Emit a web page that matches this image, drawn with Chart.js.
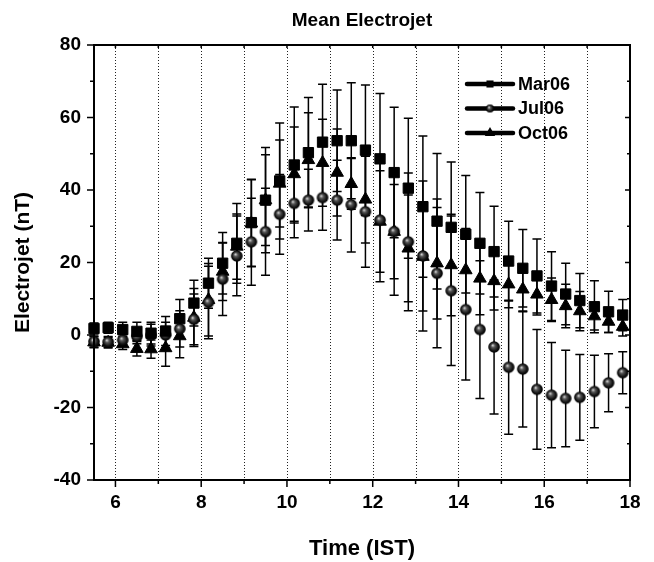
<!DOCTYPE html>
<html><head><meta charset="utf-8">
<script src="https://cdn.jsdelivr.net/npm/chart.js@4.4.1/dist/chart.umd.min.js"></script>
<style>html,body{margin:0;padding:0;background:#fff}#wrap{width:654px;height:562px}</style>
</head><body><div id="wrap"><canvas id="c" width="654" height="562"></canvas></div>
<script>
// ---- data (time in IST hours) ----
const times = [5.5,5.83,6.17,6.5,6.83,7.17,7.5,7.83,8.17,8.5,8.83,9.17,9.5,9.83,10.17,10.5,10.83,11.17,11.5,11.83,12.17,12.5,12.83,13.17,13.5,13.83,14.17,14.5,14.83,15.17,15.5,15.83,16.17,16.5,16.83,17.17,17.5,17.83];
const mar06 = [1.8,2.0,1.5,1.0,0.5,1.1,4.5,8.8,14.3,19.8,25.3,31.0,37.2,42.5,46.9,50.3,53.2,53.6,53.6,51.0,48.6,44.8,40.5,35.4,31.4,29.7,27.8,25.3,23.0,20.4,18.4,16.3,13.5,11.3,9.5,7.8,6.4,5.5];
const mar06Err = [1.5,1.5,2,2.5,3,4,5.3,6.3,6.9,8.5,11,12,14.5,16,16,15.2,16,14,16,18,18,18,19.3,19.5,18.7,18,16.2,14,12.5,11,10.7,10.2,9.5,8.5,7.5,7.2,5.7,4.3];
const jul06 = [-1.8,-1.9,-1.4,-0.4,0.0,0.0,1.7,4.3,9.0,15.4,21.8,25.7,28.5,33.3,36.3,37.2,37.9,37.2,35.9,34.0,31.7,28.5,25.7,21.8,17.0,12.2,7.0,1.5,-3.3,-8.9,-9.4,-15.0,-16.6,-17.5,-17.2,-15.6,-13.2,-10.4];
const jul06Err = [1.5,1.5,1.5,2,3,3.5,5,7,10,10,11,12,12,11,9.5,8.5,9,11,13,15.3,17,17.5,19,20.7,20.5,20.6,19.4,19,18.5,18.5,16,16.5,14.5,13.3,11.8,10,8,5.8];
const oct06 = [-2.0,-2.1,-2.5,-3.8,-3.9,-3.6,-0.3,4.8,9.7,17.5,24.4,30.8,37.2,41.8,44.4,48.3,47.5,44.8,41.7,37.4,31.3,28.5,23.9,21.6,19.8,19.3,17.9,15.6,14.9,14.0,12.6,11.2,9.7,8.0,6.6,5.2,3.7,2.3];
const oct06Err = [1.5,1.5,1.5,2,2.5,5,6,8,10,8,9,12,12.5,12,13,13,12,12,7,12,14,13,14.7,15,15.4,14,11.5,10,8,6.5,6.2,5.7,6,6,5.4,3.8,3,2.6];
const seriesNames = ['Mar06','Jul06','Oct06'];
const xTickLabels = [6,8,10,12,14,16,18];
const yTickLabels = [-40,-20,0,20,40,60,80];

const FONT = "'Liberation Sans', Arial, sans-serif";

function sphere(r){
  const s = Math.ceil(2*r+2);
  const c = document.createElement('canvas'); c.width = s; c.height = s;
  const g = c.getContext('2d'); const cx = s/2, cy = s/2;
  const grad = g.createRadialGradient(cx-r*0.25, cy-r*0.3, 0.3, cx, cy, r);
  grad.addColorStop(0, '#d0d0d0'); grad.addColorStop(0.3, '#555'); grad.addColorStop(0.75, '#111'); grad.addColorStop(1, '#000');
  g.fillStyle = grad; g.beginPath(); g.arc(cx, cy, r, 0, Math.PI*2); g.fill();
  return c;
}
const sphereBig = sphere(5.8);
const sphereSmall = sphere(4);

function pts(vals){ return times.map((t,i)=>({x:t, y:vals[i]})); }

const errPlugin = {
  id: 'errbars',
  beforeDatasetsDraw(chart){
    const {ctx, scales:{x, y}, chartArea:a} = chart;
    ctx.save();
    // dotted vertical grid lines at each hour
    ctx.strokeStyle = '#222'; ctx.lineWidth = 1; ctx.setLineDash([1,2]);
    x.ticks.forEach(t => {
      if (t.value >= 18) return;
      const px = Math.round(x.getPixelForValue(t.value)) + 0.5;
      ctx.beginPath(); ctx.moveTo(px, a.top); ctx.lineTo(px, a.bottom); ctx.stroke();
    });
    ctx.setLineDash([]);
    ctx.strokeStyle = '#000'; ctx.lineWidth = 1.5;
    chart.data.datasets.forEach(ds => {
      ds.data.forEach((p,i) => {
        const e = ds.errors[i];
        const px = x.getPixelForValue(p.x);
        const yt = y.getPixelForValue(p.y + e), yb = y.getPixelForValue(p.y - e);
        ctx.beginPath();
        ctx.moveTo(px, yt); ctx.lineTo(px, yb);
        ctx.moveTo(px-4.5, yt); ctx.lineTo(px+4.5, yt);
        ctx.moveTo(px-4.5, yb); ctx.lineTo(px+4.5, yb);
        ctx.stroke();
      });
    });
    ctx.restore();
  },
  afterDraw(chart){
    const {ctx, scales:{x, y}, chartArea:a} = chart;
    ctx.save();
    ctx.strokeStyle = '#000';
    // ticks
    ctx.lineWidth = 1.5;
    x.ticks.forEach(t => {
      const px = x.getPixelForValue(t.value);
      const major = t.value % 2 === 0;
      ctx.beginPath();
      ctx.moveTo(px, a.bottom); ctx.lineTo(px, a.bottom + (major ? 7 : 4));
      ctx.moveTo(px, a.top); ctx.lineTo(px, a.top + 3);
      ctx.stroke();
    });
    y.ticks.forEach(t => {
      const py = y.getPixelForValue(t.value);
      const major = t.value % 20 === 0;
      ctx.beginPath();
      ctx.moveTo(a.left, py); ctx.lineTo(a.left - (major ? 7 : 4), py);
      ctx.moveTo(a.right, py); ctx.lineTo(a.right - (major ? 5 : 3), py);
      ctx.stroke();
    });
    // frame
    ctx.lineWidth = 2;
    ctx.strokeRect(a.left, a.top, a.right - a.left, a.bottom - a.top);
    // legend
    const lx = a.right - 163, ly = a.top + 39, gap = 24.5;
    chart.data.datasets.forEach((ds, i) => {
      const yy = ly + i*gap;
      ctx.lineWidth = 4.5; ctx.lineCap = 'round';
      ctx.beginPath(); ctx.moveTo(lx, yy); ctx.lineTo(lx + 46, yy); ctx.stroke();
      ctx.fillStyle = '#000';
      Chart.helpers.drawPoint(ctx, {pointStyle: ds.legendStyle, radius: ds.legendRadius, rotation: 0, borderWidth: 0}, lx + 23, yy);
      ctx.font = "bold 18px " + FONT;
      ctx.textBaseline = 'middle'; ctx.textAlign = 'left';
      ctx.fillText(ds.label, lx + 51, yy + 1);
    });
    ctx.restore();
  }
};

const common = {showLine:false, pointBackgroundColor:'#000', pointBorderColor:'#000', pointBorderWidth:1, clip:false};

new Chart(document.getElementById('c'), {
  type: 'scatter',
  data: {
    datasets: [
      Object.assign({label: seriesNames[0], data: pts(mar06), errors: mar06Err, pointStyle:'rect', pointRadius:7.3, legendStyle:'rect', legendRadius:5}, common),
      Object.assign({label: seriesNames[1], data: pts(jul06), errors: jul06Err, pointStyle: sphereBig, pointRadius:6, legendStyle: sphereSmall, legendRadius:4}, common),
      Object.assign({label: seriesNames[2], data: pts(oct06), errors: oct06Err, pointStyle:'triangle', pointRadius:7.3, legendStyle:'triangle', legendRadius:6}, common)
    ]
  },
  options: {
    responsive: false, animation: false, devicePixelRatio: 1,
    layout: {padding: {left: 0, right: 24, top: 0, bottom: 0}},
    plugins: {
      legend: {display: false}, tooltip: {enabled: false},
      title: {display: true, text: 'Mean Electrojet', fullSize: false, color:'#000',
        font: {family: FONT, size: 19, weight: 'bold'}, padding: {top: 9, bottom: 13.2}}
    },
    scales: {
      x: {
        type: 'linear', min: 5.5, max: 18, position: 'bottom',
        afterFit: s => { s.height = 82; },
        grid: {display: false, drawTicks: false},
        border: {display: false},
        ticks: {stepSize: 1, includeBounds: false, autoSkip: false, maxRotation: 0, padding: 11, color:'#000',
          font: {family: FONT, size: 19, weight: 'bold'},
          callback: v => xTickLabels.includes(v) ? String(v) : ''},
        title: {display: true, text: 'Time (IST)', color:'#000', font: {family: FONT, size: 22, weight: 'bold'}, padding: {top: 0, bottom: 0}}
      },
      y: {
        type: 'linear', min: -40, max: 80,
        afterFit: s => { s.width = 94; },
        grid: {display: false, drawTicks: false},
        border: {display: false},
        ticks: {stepSize: 10, autoSkip: false, padding: 13, color:'#000',
          font: {family: FONT, size: 19, weight: 'bold'},
          callback: v => yTickLabels.includes(v) ? String(v) : ''},
        title: {display: true, text: 'Electrojet (nT)', color:'#000', font: {family: FONT, size: 21, weight: 'bold'}, padding: {top: 11, bottom: 0}}
      }
    }
  },
  plugins: [errPlugin]
});
</script>
</body></html>
